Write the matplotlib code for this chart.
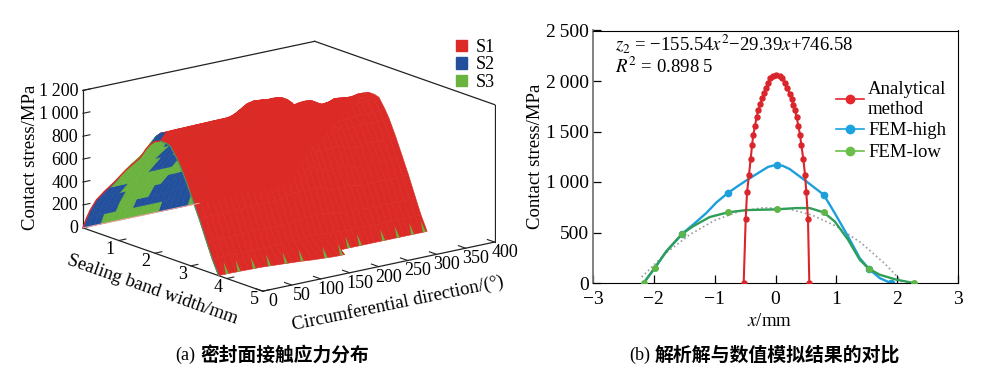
import numpy as np
import matplotlib
matplotlib.use("Agg")
import matplotlib.pyplot as plt
from matplotlib.lines import Line2D
from matplotlib.patches import Patch
from mpl_toolkits.mplot3d.art3d import Poly3DCollection

plt.rcParams['font.family'] = ['Liberation Serif', 'Noto Sans CJK SC', 'DejaVu Sans']
plt.rcParams['mathtext.fontset'] = 'stix'

# left panel: stress profile across the band, read from the y=0 end of the ridge
width_mm = [0, .1, .2, .38, .6, .85, 1.2, 1.59, 1.75, 1.87, 2.0, 2.15,
            2.3, 2.43, 2.6, 2.71, 2.9, 3.08, 3.25, 3.45, 3.6, 3.77]
profile_mpa = [0, 95, 175, 288, 385, 486, 640, 787, 880, 935, 975, 995,
               995, 983, 900, 837, 700, 557, 420, 247, 120, 0]
# ridge height every 10 degrees
circ_deg = list(range(0, 370, 10))
ridge_mpa = [995, 1060, 1060, 1062, 1063, 1064, 1065, 1066, 1067, 1068, 1069, 1070, 1070,
             1075, 1095, 1125, 1160, 1170, 1165, 1150, 1160, 1150, 1085, 1053, 1060, 1070,
             1072, 1040, 1015, 1014, 1020, 1040, 1030, 1025, 1025, 1035, 1035]
# front edge of the contact band
edge_mm = [3.77, 3.77, 3.77, 3.78, 3.78, 3.79, 3.8, 3.8, 3.82, 3.84, 3.86, 3.88, 3.9,
           3.92, 3.95, 3.98, 4.0, 4.02, 4.04, 4.05, 4.05, 3.78, 3.77, 3.77, 3.77, 3.77,
           3.77, 3.77, 3.77, 3.77, 3.77, 3.77, 3.77, 3.77, 3.77, 3.77, 3.77]
# which layer shows on the underside of the back flank, rows go up the flank, cols 0-190 deg
under_layers = ["BBBGGGGGGGGGGBBBBBGG",
                "BBBBBGGGBBBBBBBBBBBB",
                "BBBBBGGGGGBBBBBBBBBB",
                "BBBBGGGGGGGBBBBGGGGG",
                "BGGGGGGGGGGGGGGGGGGG",
                "GGGGGGBBBBGGGGGGGGGG",
                "GGGGGBBBGGGGGGGGGGGG",
                "GGGGBBGGGGGGGGGGGGGG",
                "GGGGGGGGGGGGGGGGGGGG",
                "BRRRRRRRRRRRRRRRRRRR",
                "BRRRRRRRRRRRRRRRRRRR"]
spike_deg = [15, 35, 60, 85, 110, 135, 170, 195, 225, 245, 285, 310, 335, 355]
layer_names = ['S1', 'S2', 'S3']
x_ticks_3d = [1, 2, 3, 4, 5]
y_ticks_3d = [0, 50, 100, 150, 200, 250, 300, 350, 400]
z_ticks_3d = [0, 200, 400, 600, 800, 1000, 1200]
z_labels_3d = ['0', '200', '400', '600', '800', '1\u2009000', '1\u2009200']

# right panel
red_x = [-.523, -.490, -.468, -.436, -.408, -.386, -.364, -.337, -.310, -.282, -.249, -.216,
         -.189, -.156, -.123, -.085, -.041, .014, .068, .112, .151, .195, .233, .266, .293,
         .321, .348, .375, .403, .425, .458, .485, .507, .534, .556]
red_y = [0, 633, 897, 1072, 1227, 1362, 1468, 1557, 1642, 1715, 1771, 1830, 1880, 1929, 1985,
         2028, 2051, 2055, 2051, 2028, 1985, 1929, 1873, 1821, 1765, 1715, 1642, 1557, 1468,
         1362, 1227, 1072, 897, 633, 0]
blue_x = [-2.167, -1.986, -1.795, -1.532, -1.356, -1.137, -.97, -.786, -.63, -.479, -.260, -.12,
          .019, .12, .233, .507, .792, .973, 1.192, 1.384, 1.532, 1.712, 1.893]
blue_y = [0, 148, 313, 488, 577, 693, 798, 890, 955, 1016, 1098, 1150, 1171, 1160, 1128, 1006,
          874, 693, 462, 247, 142, 49, 0]
blue_marks = [3, 7, 12, 16, 20, 22]
green_x = [-2.167, -1.986, -1.795, -1.532, -1.356, -1.082, -.786, -.479, .019, .342, .562, .792,
           .973, 1.192, 1.384, 1.532, 1.712, 1.986, 2.271]
green_y = [0, 148, 313, 488, 561, 653, 699, 722, 729, 742, 742, 699, 610, 429, 231, 142, 82, 33, 0]
green_marks = [0, 1, 3, 6, 8, 11, 15, 18]
fit_x = [-2.2, -1.8, -1.4, -1, -.6, -.2, .2, .6, 1, 1.4, 1.8, 2.1]
fit_y = [58, 296, 483, 620, 708, 746, 735, 673, 562, 401, 190, 0]

RED = '#dc2b27'
BLUE = '#23509c'
GREEN = '#6bb33f'
layer_col = {'B': BLUE, 'G': GREEN, 'R': RED}

W, H = 1000, 371
fig = plt.figure(figsize=(W / 100, H / 100), dpi=100)


def put(px, py, s, **kw):
    # text placed by figure pixel, y measured from the top
    kw.setdefault('ha', 'center')
    kw.setdefault('va', 'center')
    return fig.text(px / W, 1 - py / H, s, **kw)


# ---- left panel ----
side = 426
cx, cy = 283, 172
ax3 = fig.add_axes([(cx - side / 2) / W, 1 - (cy + side / 2) / H, side / W, side / H],
                   projection='3d', computed_zorder=False)
ax3.set_proj_type('ortho')
ax3.view_init(elev=15.85, azim=-37.8)
ax3.set_box_aspect((1, 1, .487), zoom=1.0)
ax3.set_xlim(0, 5)
ax3.set_ylim(0, 400)
ax3.set_zlim(0, 1200)
ax3.set_xticks([])
ax3.set_yticks([])
ax3.set_zticks([])
ax3.set_axis_off()
ax3.patch.set_alpha(0)

Y, X = np.meshgrid(circ_deg, width_mm)
X[-1, :] = edge_mm
Z = np.outer(np.array(profile_mpa) / max(profile_mpa), ridge_mpa)
colours = np.empty((X.shape[0], X.shape[1]), dtype=object)
for i in range(X.shape[0]):
    for j in range(X.shape[1]):
        ch = 'R'
        if i < len(under_layers) and j < len(under_layers[i]):
            ch = under_layers[i][j]
        colours[i, j] = layer_col[ch]
rgba = np.array([[matplotlib.colors.to_rgba(c) for c in row] for row in colours])

# frame first
frame = [([0, 0], [0, 0], [0, 1200]), ([0, 0], [0, 400], [1200, 1200]), ([0, 5], [400, 400], [1200, 1200]),
         ([5, 5], [400, 400], [0, 1200]), ([0, 5], [0, 0], [0, 0]), ([5, 5], [0, 400], [0, 0])]
for fx_, fy_, fz_ in frame:
    ax3.plot(fx_, fy_, fz_, color='#222222', lw=0.9, zorder=1)
for t in x_ticks_3d:
    ax3.plot([t, t], [0, 12], [0, 0], color='#222222', lw=0.8, zorder=1)
    ax3.text(t, -15, -60, str(t), fontsize=13, ha='center', va='center', zorder=5)
for t in y_ticks_3d:
    ax3.plot([5, 4.8], [t, t], [0, 0], color='#222222', lw=0.8, zorder=1)
    ax3.text(5.28, t, -60, str(t), fontsize=13, ha='center', va='center', zorder=5)
for t, lab in zip(z_ticks_3d, z_labels_3d):
    ax3.plot([0, 0], [0, 12], [t, t], color='#222222', lw=0.8, zorder=1)
    ax3.text(0, -8, t, lab, fontsize=13, ha='right', va='center', zorder=5)

ax3.plot_surface(X, Y, Z, facecolors=rgba, rstride=1, cstride=1, shade=False,
                 linewidth=0.4, antialiased=True, zorder=2)
ax3.plot(X[:12, 0], Y[:12, 0], Z[:12, 0], color=RED, lw=1.0, zorder=3)
ax3.plot(X[11:, 0], Y[11:, 0], Z[11:, 0], color='#3f9a6a', lw=0.8, zorder=3)
ax3.plot([0, 0], [0, 200], [0, 0], color='#e8a0a0', lw=0.8, zorder=3)

spikes = []
for d in spike_deg:
    k = circ_deg.index(min(circ_deg, key=lambda c: abs(c - d)))
    x_end = edge_mm[k]
    spikes.append([(x_end, d - 2.5, 0), (x_end, d + 2.5, 0), (x_end - .1, d, 90)])
ax3.add_collection3d(Poly3DCollection(spikes, facecolors=GREEN, edgecolors='none', zorder=4))

fig.legend(handles=[Patch(color=RED, label=layer_names[0]), Patch(color=BLUE, label=layer_names[1]),
                    Patch(color=GREEN, label=layer_names[2])],
           loc='upper left', bbox_to_anchor=(456 / W, 1 - 39 / H), frameon=False, fontsize=13,
           handlelength=0.62, handleheight=0.62, handletextpad=0.45, labelspacing=0.02,
           borderpad=0, borderaxespad=0)

put(31, 157, 'Contact stress/MPa', rotation=90, fontsize=13.5)
put(152, 290, 'Sealing band width/mm', rotation=-19.4, fontsize=13.5)
put(398, 303, 'Circumferential direction/(°)', rotation=11.7, fontsize=13.5)
put(195, 355, '(a)', fontsize=13, ha='right', family='Liberation Serif')
put(200, 355, '密封面接触应力分布', fontsize=13.5, ha='left', family='Noto Sans CJK SC', fontweight='bold')

# ---- right panel ----
ax = fig.add_axes([593 / W, 1 - 283 / H, 365 / W, 252.5 / H])
ax.plot(fit_x, fit_y, ls=':', color='#9a9a9a', lw=1.2, zorder=1)
ax.plot(blue_x, blue_y, color='#1c9fdb', lw=1.7, marker='o', ms=4.5, markevery=blue_marks, zorder=2)
ax.plot(green_x, green_y, color='#2f9e57', lw=1.7, marker='o', ms=4, mfc='#5fb548', mec='#5fb548',
        markevery=green_marks, zorder=3)
ax.plot(red_x, red_y, color='#d9262c', lw=1.5, marker='o', ms=3.6, zorder=4)
ax.set_xlim(-3, 3)
ax.set_ylim(0, 2500)
ax.set_xticks([-3, -2, -1, 0, 1, 2, 3])
ax.set_xticklabels(['\u22123', '\u22122', '\u22121', '0', '1', '2', '3'])
ax.set_yticks([0, 500, 1000, 1500, 2000, 2500])
ax.set_yticklabels(['0', '500', '1\u2009000', '1\u2009500', '2\u2009000', '2\u2009500'])
ax.tick_params(direction='in', length=6, width=0.9, labelsize=14, top=False, right=False)
ax.tick_params(axis='x', pad=6)
ax.tick_params(axis='y', pad=3)
ax.spines['left'].set_color('#777777')
ax.spines['left'].set_linewidth(1.3)
ax.set_xlabel('$x$/mm', fontsize=13.5)
ax.set_ylabel('Contact stress/MPa', fontsize=13.5)
ax.xaxis.set_label_coords((769 - 593) / 365, (283 - 322) / 252.5)
ax.yaxis.set_label_coords((535 - 593) / 365, 0.5)
ax.xaxis.label.set_va('center')
ax.yaxis.label.set_va('center')
ax.text(-2.64, 2375, '$z_2$ = \u2212155.54$x^2$\u221229.39$x$+746.58',
        fontsize=13.5, va='center', ha='left')
ax.text(-2.64, 2140, '$R^2$ = 0.898\u20095', fontsize=13.5, va='center', ha='left')
handles = [Line2D([], [], color='#e6272d', lw=1.2, marker='o', ms=6),
           Line2D([], [], color='#1ba3e0', lw=1.2, marker='o', ms=6),
           Line2D([], [], color='#6abf4b', lw=1.2, marker='o', ms=6)]
ax.legend(handles, ['Analytical\nmethod', 'FEM-high', 'FEM-low'], loc='upper left',
          bbox_to_anchor=(0.665, 0.80), frameon=False, fontsize=13.5, handlelength=1.5,
          handletextpad=0.22, labelspacing=0.25, borderpad=0, borderaxespad=0)

put(650, 355, '(b)', fontsize=13, ha='right', family='Liberation Serif')
put(655, 355, '解析解与数值模拟结果的对比', fontsize=13.6, ha='left', family='Noto Sans CJK SC', fontweight='bold')

fig.savefig('out.png', dpi=100)
